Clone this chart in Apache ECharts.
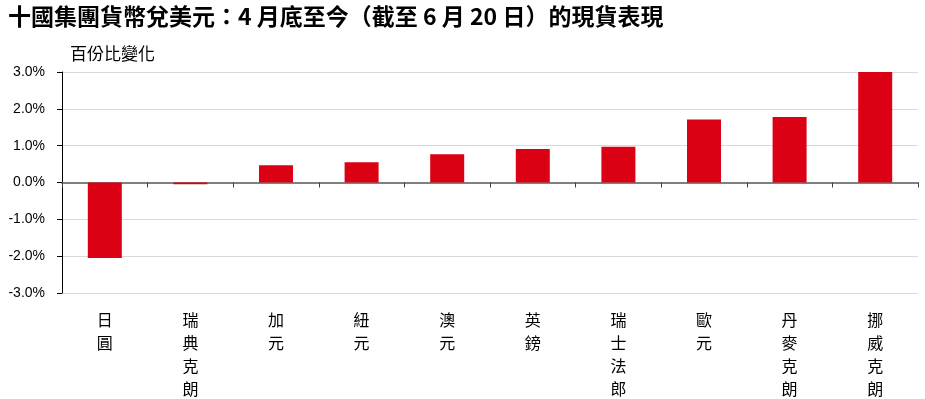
<!DOCTYPE html>
<html lang="zh-Hant">
<head>
    <meta charset="UTF-8">
    <style>
        body{ margin: 0; background: #fff; }
        #main{ width: 925px; height: 399px; }
    </style>
    <script src="https://cdn.jsdelivr.net/npm/echarts@6/dist/echarts.min.js"></script>
    <title>十國集團貨幣兌美元</title>
</head>
<body>
    <div id="main"></div>
    <script>
        var currencies = ['日圓', '瑞典克朗', '加元', '紐元', '澳元', '英鎊', '瑞士法郎', '歐元', '丹麥克朗', '挪威克朗'];
        var changes = [-2.05, -0.05, 0.47, 0.55, 0.77, 0.91, 0.97, 1.71, 1.78, 3.0];
        var yTicks = { min: -3, max: 3, step: 1 };

        var cjk = '"Noto Sans CJK TC", "Liberation Sans", sans-serif';
        var myChart = echarts.init(document.getElementById('main'));
        var option = {
            animation: false,
            title: [{
                text: '十國集團貨幣兌美元：4 月底至今（截至 6 月 20 日）的現貨表現',
                left: 3,
                top: 0,
                textStyle: { fontFamily: cjk, fontSize: 23, fontWeight: 'bold', color: '#000' }
            }, {
                text: '百份比變化',
                left: 65,
                top: 40,
                textStyle: { fontFamily: cjk, fontSize: 17, fontWeight: 'normal', color: '#000' }
            }],
            grid: { left: 62, right: 7, top: 72, bottom: 106, outerBoundsMode: 'none' },
            xAxis: [{
                type: 'category',
                data: currencies,
                axisLine: { onZero: true, lineStyle: { color: '#808080', width: 2 } },
                axisTick: { show: true, interval: 0, length: 5, lineStyle: { color: '#404040' } },
                axisLabel: { show: false }
            }, {
                type: 'category',
                data: currencies,
                position: 'bottom',
                axisLine: { show: false, onZero: false },
                axisTick: { show: false },
                axisLabel: {
                    interval: 0,
                    margin: 15,
                    fontFamily: cjk,
                    fontSize: 16,
                    lineHeight: 23,
                    verticalAlign: 'top',
                    color: '#000',
                    formatter: function (v) { return v.split('').join('\n'); }
                }
            }],
            yAxis: {
                type: 'value',
                min: yTicks.min,
                max: yTicks.max,
                interval: yTicks.step,
                axisLine: { show: true, lineStyle: { color: '#000' } },
                axisTick: { show: true, length: 5, lineStyle: { color: '#000' } },
                axisLabel: {
                    margin: 17,
                    fontFamily: '"Liberation Sans", Arial, sans-serif',
                    fontSize: 14,
                    color: '#000',
                    formatter: function (v) { return v.toFixed(1) + '%'; }
                },
                splitLine: { lineStyle: { color: '#d9d9d9' } }
            },
            series: [{
                type: 'bar',
                xAxisIndex: 0,
                barWidth: 34,
                itemStyle: { color: '#dc0014' },
                data: changes
            }]
        };
        myChart.setOption(option);
    </script>
</body>
</html>
